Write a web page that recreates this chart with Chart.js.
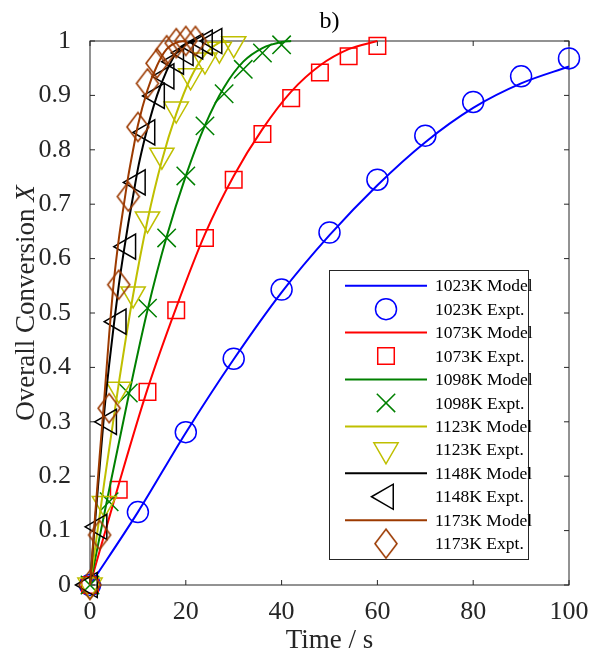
<!DOCTYPE html>
<html>
<head>
<meta charset="utf-8">
<script src="https://cdn.jsdelivr.net/npm/chart.js@4.4.0/dist/chart.umd.min.js"></script>
<style>
html,body{margin:0;padding:0;background:#ffffff;}
canvas{display:block;}
</style>
</head>
<body>
<canvas id="c" width="594" height="659"></canvas>
<script>
// ---------------- data ----------------
const t1023Model = [0, 10, 20, 30, 40, 50, 60, 70, 80, 90, 100];
const x1023Model = [0, 0.134, 0.28, 0.415, 0.538, 0.643, 0.735, 0.814, 0.877, 0.922, 0.953];
const t1023Expt  = [0, 10, 20, 30, 40, 50, 60, 70, 80, 90, 100];
const x1023Expt  = [0, 0.134, 0.281, 0.416, 0.543, 0.648, 0.745, 0.826, 0.888, 0.935, 0.968];

const t1073Model = [0, 6, 12, 18, 24, 30, 36, 42, 48, 54, 60];
const x1073Model = [0, 0.185, 0.36, 0.51, 0.645, 0.752, 0.838, 0.907, 0.955, 0.985, 1.0];
const t1073Expt  = [0, 6, 12, 18, 24, 30, 36, 42, 48, 54, 60];
const x1073Expt  = [0, 0.175, 0.355, 0.505, 0.638, 0.745, 0.829, 0.895, 0.942, 0.972, 0.991];

const t1098Model = [0, 4, 8, 12, 16, 20, 24, 28, 32, 36, 40, 42];
const x1098Model = [0, 0.175, 0.345, 0.505, 0.64, 0.752, 0.845, 0.915, 0.962, 0.987, 0.998, 1.0];
const t1098Expt  = [0, 4, 8, 12, 16, 20, 24, 28, 32, 36, 40];
const x1098Expt  = [0, 0.153, 0.353, 0.509, 0.638, 0.752, 0.844, 0.903, 0.948, 0.978, 0.993];

const t1123Model = [0, 3, 6, 9, 12, 15, 18, 21, 24, 27, 28.5];
const x1123Model = [0, 0.19, 0.37, 0.533, 0.67, 0.78, 0.866, 0.932, 0.975, 0.997, 1.0];
const t1123Expt  = [0, 3, 6, 9, 12, 15, 18, 21, 24, 27, 30];
const x1123Expt  = [0, 0.15, 0.36, 0.535, 0.673, 0.79, 0.875, 0.936, 0.965, 0.985, 0.995];

const t1148Model = [0, 1, 2, 3, 4, 5, 6, 7, 8, 9, 10, 11, 12, 14, 16, 18, 20, 22];
const x1148Model = [0, 0.11, 0.215, 0.32, 0.405, 0.48, 0.55, 0.61, 0.665, 0.715, 0.765, 0.805, 0.84, 0.9, 0.945, 0.978, 0.994, 1.0];
const t1148Expt  = [0, 2, 4, 6, 8, 10, 12, 14, 16, 18, 20, 22, 24, 26];
const x1148Expt  = [0, 0.107, 0.30, 0.484, 0.622, 0.74, 0.832, 0.899, 0.935, 0.962, 0.978, 0.99, 0.997, 1.0];

const t1173Model = [0, 1, 2, 3, 4, 5, 6, 7, 8, 9, 10, 12, 14, 16, 18, 20];
const x1173Model = [0, 0.12, 0.235, 0.345, 0.46, 0.56, 0.635, 0.695, 0.752, 0.8, 0.845, 0.91, 0.955, 0.985, 0.997, 1.0];
const t1173Expt  = [0, 2, 4, 6, 8, 10, 12, 14, 16, 18, 20, 22];
const x1173Expt  = [0, 0.092, 0.325, 0.552, 0.714, 0.842, 0.922, 0.959, 0.983, 0.996, 1.0, 1.0];

const xTickValues = [0, 20, 40, 60, 80, 100];
const yTickValues = [0, 0.1, 0.2, 0.3, 0.4, 0.5, 0.6, 0.7, 0.8, 0.9, 1];
const legendLabels = ['1023K Model','1023K Expt.','1073K Model','1073K Expt.','1098K Model','1098K Expt.',
                      '1123K Model','1123K Expt.','1148K Model','1148K Expt.','1173K Model','1173K Expt.'];
const xAxisTitle = 'Time / s';
const yAxisTitleMain = 'Overall Conversion ';
const yAxisTitleVar = 'X';
const panelTitle = 'b)';

// ---------------- styling ----------------
const FONT = "'Liberation Serif', 'Times New Roman', serif";
const AXIS = '#262626';
const BLUE = '#0000ff', RED = '#ff0000', GREEN = '#008000', YELLOW = '#bfbf00', BLACK = '#000000', BROWN = '#9c3a00';

function diamondCanvas(color) {
  const w = 22, h = 29, c = document.createElement('canvas');
  c.width = w + 4; c.height = h + 4;
  const g = c.getContext('2d');
  g.strokeStyle = color; g.lineWidth = 1.6;
  g.beginPath();
  g.moveTo(c.width / 2, 2);
  g.lineTo(c.width - 2, c.height / 2);
  g.lineTo(c.width / 2, c.height - 2);
  g.lineTo(2, c.height / 2);
  g.closePath(); g.stroke();
  return c;
}

const pts = (ts, xs) => ts.map((t, i) => ({x: t, y: xs[i]}));

const seriesDefs = [
  {color: BLUE,   tM: t1023Model, xM: x1023Model, tE: t1023Expt, xE: x1023Expt, style: 'circle',   r: 10.5, rot: 0},
  {color: RED,    tM: t1073Model, xM: x1073Model, tE: t1073Expt, xE: x1073Expt, style: 'rect',     r: 11.7, rot: 0},
  {color: GREEN,  tM: t1098Model, xM: x1098Model, tE: t1098Expt, xE: x1098Expt, style: 'crossRot', r: 13,   rot: 0},
  {color: YELLOW, tM: t1123Model, xM: x1123Model, tE: t1123Expt, xE: x1123Expt, style: 'triangle', r: 14,   rot: 180},
  {color: BLACK,  tM: t1148Model, xM: x1148Model, tE: t1148Expt, xE: x1148Expt, style: 'triangle', r: 14.5, rot: 270},
  {color: BROWN,  tM: t1173Model, xM: x1173Model, tE: t1173Expt, xE: x1173Expt, style: 'diamond',  r: 15,   rot: 0}
];

const datasets = [];
seriesDefs.forEach((s, i) => {
  const ps = s.style === 'diamond' ? diamondCanvas(s.color) : s.style;
  datasets.push({
    label: legendLabels[2 * i], kind: 'model',
    data: pts(s.tM, s.xM), showLine: true, borderColor: s.color, borderWidth: 2,
    pointRadius: 0, pointHoverRadius: 0, cubicInterpolationMode: 'monotone', fill: false, clip: false
  });
  datasets.push({
    label: legendLabels[2 * i + 1], kind: 'expt',
    data: pts(s.tE, s.xE), showLine: false, borderColor: s.color, backgroundColor: 'rgba(0,0,0,0)',
    pointStyle: ps, pointRadius: s.r, pointHoverRadius: s.r, pointRotation: s.rot,
    pointBorderWidth: 1.5, pointBackgroundColor: 'rgba(0,0,0,0)', pointBorderColor: s.color, clip: false
  });
});
datasets.forEach((d, i) => { d.order = datasets.length - i; });

// ---------------- plugins ----------------
const framePlugin = {
  id: 'frame',
  beforeDatasetsDraw(chart) {
    const ctx = chart.ctx, a = chart.chartArea, xs = chart.scales.x, ys = chart.scales.y;
    ctx.save();
    ctx.strokeStyle = AXIS; ctx.lineWidth = 1;
    ctx.strokeRect(a.left, a.top, a.right - a.left, a.bottom - a.top);
    ctx.beginPath();
    xTickValues.forEach(v => {
      const p = xs.getPixelForValue(v);
      ctx.moveTo(p, a.bottom); ctx.lineTo(p, a.bottom - 5);
      ctx.moveTo(p, a.top); ctx.lineTo(p, a.top + 5);
    });
    yTickValues.forEach(v => {
      const p = ys.getPixelForValue(v);
      ctx.moveTo(a.left, p); ctx.lineTo(a.left + 5, p);
      ctx.moveTo(a.right, p); ctx.lineTo(a.right - 5, p);
    });
    ctx.stroke();
    ctx.restore();
  },
  afterDraw(chart) {
    const ctx = chart.ctx, a = chart.chartArea;
    ctx.save();
    // panel title
    ctx.fillStyle = '#000';
    ctx.font = '24px ' + FONT;
    ctx.textAlign = 'center'; ctx.textBaseline = 'alphabetic';
    ctx.fillText(panelTitle, (a.left + a.right) / 2, 28);
    // y axis title with italic variable
    ctx.fillStyle = AXIS;
    ctx.translate(27, 303);
    ctx.rotate(-Math.PI / 2);
    ctx.textAlign = 'left'; ctx.textBaseline = 'middle';
    ctx.font = '27px ' + FONT;
    const w1 = ctx.measureText(yAxisTitleMain).width;
    ctx.font = 'italic 27px ' + FONT;
    const w2 = ctx.measureText(yAxisTitleVar).width;
    const x0 = -(w1 + w2) / 2;
    ctx.font = '27px ' + FONT;
    ctx.fillText(yAxisTitleMain, x0, 0);
    ctx.font = 'italic 27px ' + FONT;
    ctx.fillText(yAxisTitleVar, x0 + w1, 0);
    ctx.restore();

    // legend
    ctx.save();
    const L = 329.5, T = 270.5, R = 528.5, B = 559.5;
    ctx.fillStyle = '#ffffff';
    ctx.fillRect(L, T, R - L, B - T);
    ctx.strokeStyle = AXIS; ctx.lineWidth = 1;
    ctx.strokeRect(L, T, R - L, B - T);
    chart.data.datasets.forEach((d, i) => {
      const y = 285.7 + i * 23.45;
      if (d.kind === 'model') {
        ctx.strokeStyle = d.borderColor; ctx.lineWidth = 2;
        ctx.beginPath(); ctx.moveTo(345, y); ctx.lineTo(427, y); ctx.stroke();
      } else {
        ctx.save();
        ctx.strokeStyle = d.borderColor;
        ctx.fillStyle = 'rgba(0,0,0,0)';
        ctx.lineWidth = d.pointBorderWidth;
        Chart.helpers.drawPoint(ctx, {
          pointStyle: d.pointStyle, radius: d.pointRadius, rotation: d.pointRotation,
          borderWidth: d.pointBorderWidth
        }, 386, y);
        ctx.restore();
      }
      ctx.fillStyle = '#000';
      ctx.font = '17.5px ' + FONT;
      ctx.textAlign = 'left'; ctx.textBaseline = 'middle';
      ctx.fillText(d.label, 435, y + 1);
    });
    ctx.restore();
  }
};

Chart.defaults.font.family = FONT;
Chart.defaults.color = AXIS;

new Chart(document.getElementById('c'), {
  type: 'scatter',
  data: {datasets},
  plugins: [framePlugin],
  options: {
    responsive: false, animation: false, devicePixelRatio: 1,
    layout: {padding: {top: 41, right: 25, left: 0, bottom: 0}},
    plugins: {legend: {display: false}, tooltip: {enabled: false}, title: {display: false}},
    scales: {
      x: {
        type: 'linear', min: 0, max: 100,
        grid: {display: false}, border: {display: false},
        afterBuildTicks: s => { s.ticks = xTickValues.map(v => ({value: v})); },
        afterFit: s => { s.height = 74; },
        ticks: {font: {size: 26, family: FONT}, color: AXIS, padding: 4, maxRotation: 0, autoSkip: false},
        title: {display: true, text: xAxisTitle, font: {size: 27, family: FONT}, color: AXIS, padding: {top: 0, bottom: 2}}
      },
      y: {
        type: 'linear', min: 0, max: 1,
        grid: {display: false}, border: {display: false},
        afterBuildTicks: s => { s.ticks = yTickValues.map(v => ({value: v})); },
        afterFit: s => { s.width = 90; },
        ticks: {font: {size: 26, family: FONT}, color: AXIS, padding: 11, autoSkip: false,
                callback: v => String(Math.round(v * 10) / 10)}
      }
    }
  }
});
</script>
</body>
</html>
